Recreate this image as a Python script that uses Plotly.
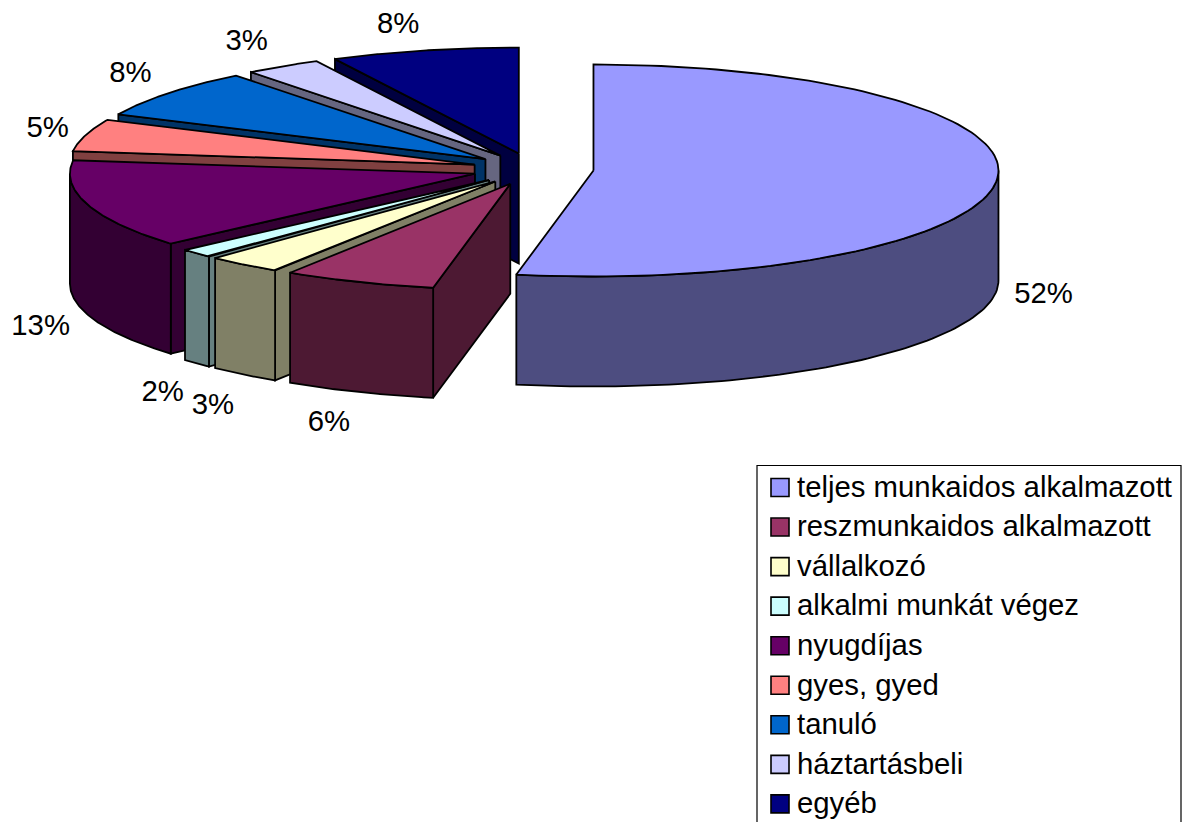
import numpy as np
import plotly.graph_objects as go

categories = ["teljes munkaidos alkalmazott", "reszmunkaidos alkalmazott", "vállalkozó",
              "alkalmi munkát végez", "nyugdíjas", "gyes, gyed", "tanuló", "háztartásbeli", "egyéb"]
# shares as they appear in the drawn pie (percent)
shares = [53.05, 6.1, 3.01, 1.36, 13.5, 4.92, 7.5, 3.06, 7.5]
labels = ["52%", "6%", "3%", "2%", "13%", "5%", "8%", "3%", "8%"]
top_colors = ["#9999FF", "#993366", "#FFFFCC", "#CCFFFF", "#660066", "#FF8080", "#0066CC", "#CCCCFF", "#000080"]
side_colors = ["#4D4D80", "#4D1933", "#808066", "#668080", "#330033", "#804040", "#003366", "#666680", "#000040"]
label_dx = [47, -30, -31, -34, -47, -38, -38, -36, -26]
label_dy = [115, 142, 142, 140, 123, -5, -18, -24, -25]

CX, CY, RX, RY, DEPTH, EXPLODE = 533.0, 169.0, 405.0, 106.0, 110.0, 0.15
FONT = "Liberation Sans, Arial, sans-serif"
FS = 29.33
LW = 1.8
KEY_X, TEXT_X, KEY_Y0, KEY_PITCH, TEXT_SHIFT = 780.0, 797.0, 487.5, 39.55, 2.0

fig = go.Figure()


def poly(xs, ys, color):
    fig.add_trace(go.Scatter(x=list(xs), y=list(ys), mode="lines", fill="toself", fillcolor=color,
                             line=dict(color="black", width=LW), hoverinfo="skip", showlegend=False))


edges = np.concatenate([[0], np.cumsum(shares)]) / sum(shares) * 360.0
geo = []
for i in range(len(shares)):
    a, b = edges[i], edges[i + 1]
    m = np.radians((a + b) / 2)
    geo.append((a, b, CX + EXPLODE * RX * np.sin(m), CY - EXPLODE * RY * np.cos(m), m))


def rim(cx, cy, deg):
    t = np.radians(deg)
    return cx + RX * np.sin(t), cy - RY * np.cos(t)


# painter's order: far slices first, the large slice last
order = [8, 7, 6, 5, 4, 3, 2, 1, 0]
for i in order:
    a, b, cx, cy, m = geo[i]
    if a > 180:
        rx_, ry_ = rim(cx, cy, a)
        poly([cx, rx_, rx_, cx, cx], [cy, ry_, ry_ + DEPTH, cy + DEPTH, cy], side_colors[i])
    lo, hi = max(a, 90), min(b, 270)
    if hi > lo:
        ts = np.linspace(lo, hi, 80)
        x1, y1 = rim(cx, cy, ts)
        poly(np.concatenate([x1, x1[::-1], x1[:1]]),
             np.concatenate([y1, y1[::-1] + DEPTH, y1[:1]]), side_colors[i])
    ts = np.linspace(a, b, 120)
    x1, y1 = rim(cx, cy, ts)
    poly(np.concatenate([[cx], x1, [cx]]), np.concatenate([[cy], y1, [cy]]), top_colors[i])

# percentage labels, anchored to each slice's rim
lx, ly = [], []
for i, (a, b, cx, cy, m) in enumerate(geo):
    px, py = rim(cx, cy, (a + b) / 2)
    lx.append(px + label_dx[i])
    ly.append(py + label_dy[i])
fig.add_trace(go.Scatter(x=lx, y=ly, mode="text", text=labels, textposition="middle center",
                         textfont=dict(family=FONT, size=FS, color="black"),
                         hoverinfo="skip", showlegend=False))

# legend: colour keys and category names, one row per category
rows = [KEY_Y0 + k * KEY_PITCH for k in range(len(categories))]
fig.add_trace(go.Scatter(x=[KEY_X] * len(rows), y=rows, mode="markers", hoverinfo="skip", showlegend=False,
                         marker=dict(symbol="square", size=18, color=top_colors,
                                     line=dict(color="black", width=1.6))))
fig.add_trace(go.Scatter(x=[TEXT_X] * len(rows), y=[r + TEXT_SHIFT for r in rows], mode="text", text=categories,
                         textposition="middle right", hoverinfo="skip", showlegend=False,
                         textfont=dict(family=FONT, size=FS, color="black")))

fig.update_layout(
    width=1182, height=822, autosize=False,
    margin=dict(l=0, r=0, t=0, b=0, pad=0, autoexpand=False),
    paper_bgcolor="white", plot_bgcolor="white",
    showlegend=False,
    xaxis=dict(range=[0, 1182], visible=False, fixedrange=True),
    yaxis=dict(range=[822, 0], visible=False, fixedrange=True),
    shapes=[dict(type="rect", xref="paper", yref="paper", x0=757 / 1182, x1=1181 / 1182,
                 y0=-0.02, y1=1 - 465.5 / 822, line=dict(color="black", width=1.2),
                 fillcolor="rgba(0,0,0,0)", layer="below")],
)
fig.write_html("out.html", post_script="document.body.style.margin='0';",
               config={"displayModeBar": False})
